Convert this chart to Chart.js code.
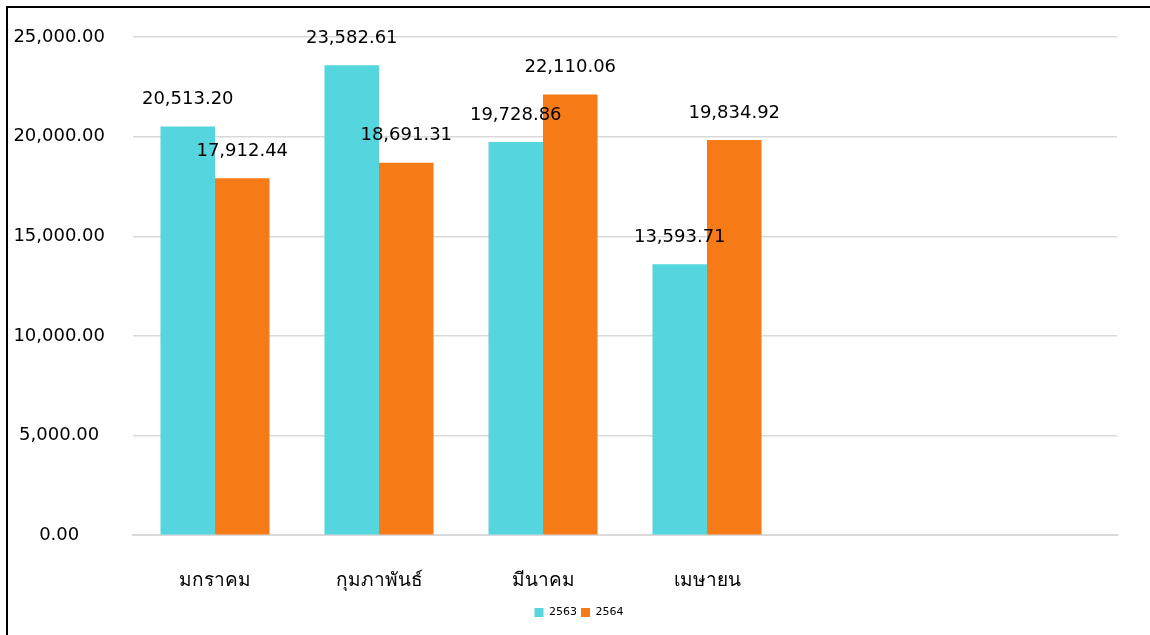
<!DOCTYPE html>
<html>
<head>
<meta charset="utf-8">
<script src="https://cdn.jsdelivr.net/npm/chart.js@4/dist/chart.umd.min.js"></script>
<style>
  html, body { margin: 0; padding: 0; background: #fff; }
  #box {
    position: absolute; left: 6px; top: 6px; width: 1144px; height: 629px;
    border-left: 2px solid #000; border-top: 2px solid #000; background: #fff;
  }
  #wrap { position: absolute; left: 0; top: 0; width: 1142px; height: 627px; }
</style>
</head>
<body>
<div id="box"><div id="wrap"><canvas id="myChart"></canvas></div></div>
<script>
// Months (two empty slots at the end, as in the original sheet)
const months = ['มกราคม', 'กุมภาพันธ์', 'มีนาคม', 'เมษายน', '', ''];
const years = ['2563', '2564'];
const values2563 = [20513.20, 23582.61, 19728.86, 13593.71, null, null];
const values2564 = [17912.44, 18691.31, 22110.06, 19834.92, null, null];
const yTicks = [0, 5000, 10000, 15000, 20000, 25000];

const fontFamily = "Tahoma, 'DejaVu Sans', 'Noto Sans', sans-serif";

function fmt(v) {
    return v.toLocaleString('en-US', { minimumFractionDigits: 2, maximumFractionDigits: 2 });
}

// Draw value labels above each bar
const valueLabels = {
    id: 'valueLabels',
    afterDatasetsDraw(chart) {
        const ctx = chart.ctx;
        ctx.save();
        ctx.font = '18px ' + fontFamily;
        ctx.fillStyle = '#000';
        ctx.textAlign = 'center';
        ctx.textBaseline = 'middle';
        chart.data.datasets.forEach((ds, i) => {
            chart.getDatasetMeta(i).data.forEach((bar, j) => {
                const v = ds.data[j];
                if (v == null) return;
                ctx.fillText(fmt(v), bar.x, bar.y - 27);
            });
        });
        ctx.restore();
    }
};

const ctx = document.getElementById('myChart').getContext('2d');

new Chart(ctx, {
    type: 'bar',
    data: {
        labels: months,
        datasets: [{
            label: years[0],
            data: values2563,
            backgroundColor: '#55D6DE',
            categoryPercentage: 0.665,
            barPercentage: 1
        }, {
            label: years[1],
            data: values2564,
            backgroundColor: '#F67B16',
            categoryPercentage: 0.665,
            barPercentage: 1
        }]
    },
    options: {
        responsive: true,
        maintainAspectRatio: false,
        animation: false,
        layout: { padding: { top: 29, right: 0, bottom: 7, left: 0 } },
        scales: {
            x: {
                afterFit: axis => { axis.height -= 23; axis.paddingRight = 33; },
                grid: { display: false, drawTicks: false },
                border: { display: true, color: '#d9d9d9', width: 2 },
                ticks: { color: '#000', font: { family: fontFamily, size: 19 }, padding: 34, maxRotation: 0 }
            },
            y: {
                min: 0,
                max: 25000,
                afterBuildTicks: axis => { axis.ticks = yTicks.map(v => ({ value: v })); },
                afterFit: axis => { axis.width = 125; axis.paddingTop = 0; axis.paddingBottom = 0; },
                grid: { color: '#d9d9d9', lineWidth: 1.5, drawTicks: false },
                border: { display: false },
                ticks: {
                    color: '#000',
                    font: { family: fontFamily, size: 18 },
                    padding: 28,
                    crossAlign: 'center',
                    callback: v => fmt(v)
                }
            }
        },
        plugins: {
            legend: {
                position: 'bottom',
                labels: {
                    color: '#000',
                    font: { family: fontFamily, size: 11 },
                    boxWidth: 9,
                    boxHeight: 9,
                    padding: 4
                }
            },
            tooltip: { enabled: false }
        }
    },
    plugins: [valueLabels]
});
</script>
</body>
</html>
